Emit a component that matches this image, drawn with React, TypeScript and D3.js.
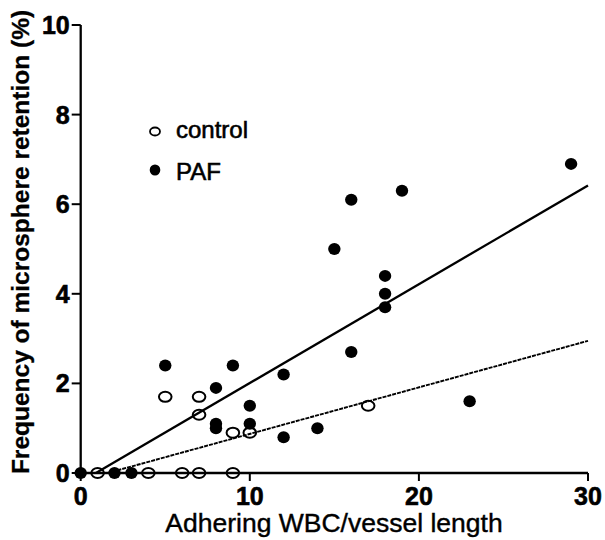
import React from "react";
import * as d3 from "d3";

// ---- data ----
const controlX = [1, 4, 6, 7, 9, 5, 7, 7, 9, 10, 17];
const controlY = [0, 0, 0, 0, 0, 1.7, 1.7, 1.3, 0.9, 0.9, 1.5];
const pafX = [0, 2, 3, 5, 8, 8, 8, 9, 10, 10, 12, 12, 14, 15, 16, 16, 18, 18, 18, 19, 23, 29];
const pafY = [0, 0, 0, 2.4, 1.9, 1.1, 1.0, 2.4, 1.5, 1.1, 2.2, 0.8, 1.0, 5.0, 6.1, 2.7, 4.4, 4.0, 3.7, 6.3, 1.6, 6.9];
const pafFitX = [0.9, 30];
const pafFitY = [0, 6.42];
const controlFitX = [1.6, 30];
const controlFitY = [0, 2.95];
const xTicks = [0, 10, 20, 30];
const yTicks = [0, 2, 4, 6, 8, 10];
const legendLabels = ["control", "PAF"];
const xTitle = "Adhering WBC/vessel length";
const yTitle = "Frequency of microsphere retention (%)";

const W = 605;
const H = 540;
const FONT = "'Liberation Sans', Arial, Helvetica, sans-serif";

export default function App() {
  const x = d3.scaleLinear().domain([0, 30]).range([80.7, 588]);
  const y = d3.scaleLinear().domain([0, 10]).range([473, 25]);
  const line = d3
    .line<[number, number]>()
    .x((d) => x(d[0]))
    .y((d) => y(d[1]));
  const pafFit: [number, number][] = pafFitX.map((v, i) => [v, pafFitY[i]]);
  const ctrlFit: [number, number][] = controlFitX.map((v, i) => [v, controlFitY[i]]);

  return (
    <svg
      width={W}
      height={H}
      style={{ position: "absolute", left: 0, top: 0, background: "#fff" }}
      fontFamily={FONT}
    >
      <rect width={W} height={H} fill="#fff" />
      {/* regression lines */}
      <path d={line(pafFit) || ""} stroke="#000" strokeWidth={2.3} fill="none" />
      <path
        d={line(ctrlFit) || ""}
        stroke="#000"
        strokeWidth={1.9}
        strokeDasharray="4,1"
        fill="none"
      />
      {/* axes */}
      <line x1={x(0)} x2={x(0)} y1={y(10)} y2={y(0)} stroke="#000" strokeWidth={2.3} />
      <line x1={x(0)} x2={x(30)} y1={y(0)} y2={y(0)} stroke="#000" strokeWidth={2.3} />
      {yTicks.map((t) => (
        <g key={"y" + t}>
          <line x1={x(0) - 9} x2={x(0)} y1={y(t)} y2={y(t)} stroke="#000" strokeWidth={2} />
          <text
            x={x(0) - 11}
            y={y(t) + 9}
            textAnchor="end"
            fontSize={25}
            fontWeight="bold"
            stroke="#000"
            strokeWidth={0.6}
          >
            {t}
          </text>
        </g>
      ))}
      {xTicks.map((t) => (
        <g key={"x" + t}>
          <line x1={x(t)} x2={x(t)} y1={y(0)} y2={y(0) + 8} stroke="#000" strokeWidth={2} />
          <text
            x={x(t)}
            y={505}
            textAnchor="middle"
            fontSize={25}
            fontWeight="bold"
            stroke="#000"
            strokeWidth={0.6}
          >
            {t}
          </text>
        </g>
      ))}
      {/* markers */}
      {controlX.map((v, i) => (
        <ellipse
          key={"c" + i}
          cx={x(v)}
          cy={y(controlY[i])}
          rx={6.3}
          ry={5}
          fill="none"
          stroke="#000"
          strokeWidth={2}
        />
      ))}
      {pafX.map((v, i) => (
        <ellipse key={"p" + i} cx={x(v)} cy={y(pafY[i])} rx={6.2} ry={6} fill="#000" />
      ))}
      {/* legend */}
      <ellipse cx={155} cy={131.5} rx={5} ry={4} fill="none" stroke="#000" strokeWidth={1.8} />
      <text x={176} y={138} fontSize={24} stroke="#000" strokeWidth={0.6}>
        {legendLabels[0]}
      </text>
      <ellipse cx={155} cy={170} rx={5.3} ry={5.5} fill="#000" />
      <text x={176} y={179.5} fontSize={24} stroke="#000" strokeWidth={0.6}>
        {legendLabels[1]}
      </text>
      {/* titles */}
      <text x={334} y={532} textAnchor="middle" fontSize={26.5} stroke="#000" strokeWidth={0.4}>
        {xTitle}
      </text>
      <text
        transform={`translate(29,242) rotate(-90)`}
        textAnchor="middle"
        fontSize={24.5}
        fontWeight="bold"
        stroke="#000"
        strokeWidth={0.3}
      >
        {yTitle}
      </text>
    </svg>
  );
}
